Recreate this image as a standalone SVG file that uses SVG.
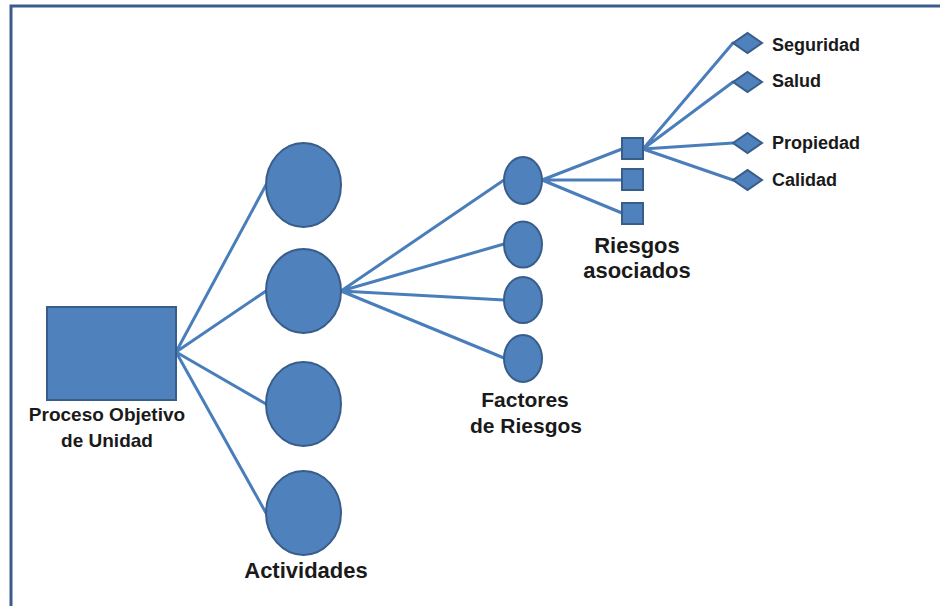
<svg xmlns="http://www.w3.org/2000/svg" width="940" height="606" viewBox="0 0 940 606">
<style>
.n{fill:#4f81bd;stroke:#385d8a;stroke-width:2}
.c{stroke:#4a7ebb;stroke-width:3;fill:none;stroke-linecap:round}
.t{font-family:"Liberation Sans",Arial,sans-serif;font-weight:bold;fill:#1a1a1a}
.frame{stroke:#3b5d8c;stroke-width:3;fill:none}
</style>
<rect width="940" height="606" fill="#ffffff"/>
<path class="frame" d="M11,606 V6 H940"/>
<g id="connectors">
<path class="c" d="M176,352 L266,185 M176,352 L266,291 M176,352 L266,404 M176,352 L266,513"/>
<path class="c" d="M341,291 L504,180 M341,291 L504,244 M341,291 L504,300 M341,291 L504,358"/>
<path class="c" d="M542,180 L622,149 M542,180 L622,180 M542,180 L622,213"/>
<path class="c" d="M643,149 L733,43 M643,149 L733,82 M643,149 L733,143 M643,149 L733,180"/>
</g>
<g id="proceso">
<rect class="n" x="47" y="307" width="129" height="93"/>
<text class="t" x="107" y="421" font-size="19" text-anchor="middle">Proceso Objetivo</text>
<text class="t" x="107" y="447" font-size="19" text-anchor="middle">de Unidad</text>
</g>
<g id="actividades">
<ellipse class="n" cx="303.5" cy="185" rx="37.5" ry="42"/>
<ellipse class="n" cx="303.5" cy="291" rx="37.5" ry="42"/>
<ellipse class="n" cx="303.5" cy="404" rx="37.5" ry="42"/>
<ellipse class="n" cx="303.5" cy="513" rx="37.5" ry="42"/>
<text class="t" x="306" y="578" font-size="22" text-anchor="middle">Actividades</text>
</g>
<g id="factores">
<ellipse class="n" cx="523" cy="180.5" rx="19" ry="23.5"/>
<ellipse class="n" cx="523" cy="244.5" rx="19" ry="23"/>
<ellipse class="n" cx="523" cy="300" rx="19" ry="23"/>
<ellipse class="n" cx="523" cy="358.5" rx="19" ry="23.5"/>
<text class="t" x="525" y="407" font-size="21" text-anchor="middle">Factores</text>
<text class="t" x="526" y="433" font-size="21" text-anchor="middle">de Riesgos</text>
</g>
<g id="riesgos">
<rect class="n" x="622" y="138" width="21" height="21"/>
<rect class="n" x="622" y="169" width="21" height="21"/>
<rect class="n" x="622" y="203" width="21" height="21"/>
<text class="t" x="637" y="253" font-size="22" text-anchor="middle">Riesgos</text>
<text class="t" x="637" y="278" font-size="22" text-anchor="middle">asociados</text>
</g>
<g id="seguridad">
<polygon class="n" points="733,43 747.5,33 762,43 747.5,53"/>
<text class="t" x="772" y="51" font-size="18">Seguridad</text>
</g>
<g id="salud">
<polygon class="n" points="733,82 747.5,72 762,82 747.5,92"/>
<text class="t" x="772" y="87" font-size="18">Salud</text>
</g>
<g id="propiedad">
<polygon class="n" points="733,143 747.5,133 762,143 747.5,153"/>
<text class="t" x="772" y="149" font-size="18">Propiedad</text>
</g>
<g id="calidad">
<polygon class="n" points="733,180 747.5,170 762,180 747.5,190"/>
<text class="t" x="772" y="186" font-size="18">Calidad</text>
</g>
</svg>
